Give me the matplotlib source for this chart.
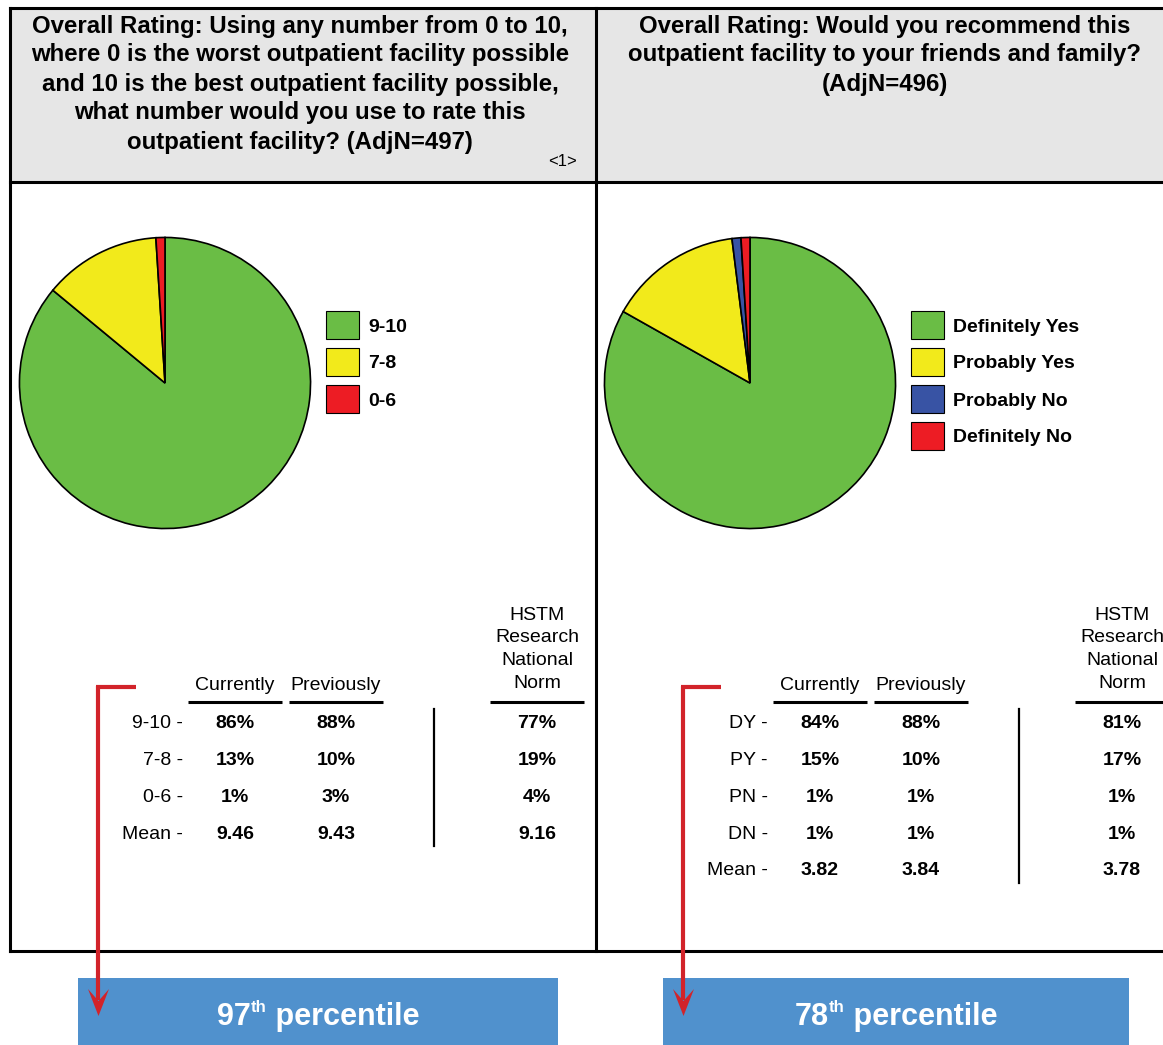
import matplotlib
matplotlib.use('Agg')
import matplotlib.pyplot as plt
from matplotlib.patches import Rectangle, Polygon

plt.rcParams['font.family'] = ['Liberation Sans', 'DejaVu Sans']

# ---- data ----
rating_title = ['Overall Rating: Using any number from 0 to 10,',
                'where 0 is the worst outpatient facility possible',
                'and 10 is the best outpatient facility possible,',
                'what number would you use to rate this',
                'outpatient facility? (AdjN=497)']
rating_legend = ['9-10', '7-8', '0-6']
rating_rows = ['9-10', '7-8', '0-6']
rating_current = [86, 13, 1]
rating_previous = [88, 10, 3]
rating_norm = [77, 19, 4]
rating_mean = [9.46, 9.43, 9.16]
rating_colors = ['#6abd45', '#f2ea1b', '#ed1c24']

recommend_title = ['Overall Rating: Would you recommend this',
                   'outpatient facility to your friends and family?',
                   '(AdjN=496)']
recommend_legend = ['Definitely Yes', 'Probably Yes', 'Probably No', 'Definitely No']
recommend_rows = ['DY', 'PY', 'PN', 'DN']
recommend_current = [84, 15, 1, 1]
recommend_previous = [88, 10, 1, 1]
recommend_norm = [81, 17, 1, 1]
recommend_mean = [3.82, 3.84, 3.78]
recommend_colors = ['#6abd45', '#f2ea1b', '#3853a4', '#ed1c24']

percentiles = [97, 78]
norm_header = ['HSTM', 'Research', 'National', 'Norm']

W, H = 1163, 1045
RED = '#d2232a'
BLUE = '#5091cd'
OFF = 2  # small vertical nudge so text centres sit like the reference

fig = plt.figure(figsize=(W / 100, H / 100), dpi=100)
ax = fig.add_axes([0, 0, 1, 1])
ax.set_xlim(0, W)
ax.set_ylim(H, 0)
ax.axis('off')

# header background and frame
ax.add_patch(Rectangle((10, 8), W - 10, 174, facecolor='#e6e6e6', edgecolor='none'))
lw = 2.2
ax.plot([10, W], [8, 8], color='black', lw=lw)
ax.plot([10, W], [182, 182], color='black', lw=lw)
ax.plot([10, W], [951, 951], color='black', lw=lw)
ax.plot([10, 10], [8, 951], color='black', lw=lw)
ax.plot([596, 596], [8, 951], color='black', lw=lw)


def draw_panel(dx, title, tcx, legend, colors, rows, cur, prev, norm, mean, pct, bx1):
    # title
    for i, line in enumerate(title):
        ax.text(tcx, 24 + OFF + i * 29, line, ha='center', va='center',
                fontsize=17.3, fontweight='bold')

    # pie
    cx, cy, r = 165 + dx, 383, 147
    pax = fig.add_axes([(cx - r) / W, 1 - (cy + r) / H, 2 * r / W, 2 * r / H])
    pax.pie(cur, colors=colors, startangle=90, counterclock=False,
            wedgeprops=dict(edgecolor='black', linewidth=1.2))
    pax.set_xlim(-1.01, 1.01)
    pax.set_ylim(-1.01, 1.01)
    pax.set_aspect('equal')
    pax.axis('off')

    # legend
    for i, (lab, c) in enumerate(zip(legend, colors)):
        y = 325 + i * 37
        ax.add_patch(Rectangle((326 + dx, y - 14), 33, 28, facecolor=c,
                               edgecolor='black', lw=0.8))
        ax.text(368 + dx, y + OFF, lab, ha='left', va='center', fontsize=14,
                fontweight='bold')

    # table header
    c1, c2, c3 = 235 + dx, 336 + dx, 537 + dx
    ax.text(c1, 684 + OFF, 'Currently', ha='center', va='center', fontsize=14)
    ax.text(c2, 684 + OFF, 'Previously', ha='center', va='center', fontsize=14)
    for i, line in enumerate(norm_header):
        ax.text(c3, 613 + OFF + i * 22.7, line, ha='center', va='center', fontsize=14)
    for c in (c1, c2, c3):
        ax.plot([c - 47, c + 47], [702, 702], color='black', lw=2.2,
                solid_capstyle='butt')

    labels = [r + ' -' for r in rows] + ['Mean -']
    cur_t = ['%d%%' % v for v in cur] + ['%.2f' % mean[0]]
    prev_t = ['%d%%' % v for v in prev] + ['%.2f' % mean[1]]
    norm_t = ['%d%%' % v for v in norm] + ['%.2f' % mean[2]]
    for i in range(len(labels)):
        y = 722 + OFF + i * 36.7
        ax.text(183 + dx, y, labels[i], ha='right', va='center', fontsize=14)
        ax.text(c1, y, cur_t[i], ha='center', va='center', fontsize=14, fontweight='bold')
        ax.text(c2, y, prev_t[i], ha='center', va='center', fontsize=14, fontweight='bold')
        ax.text(c3, y, norm_t[i], ha='center', va='center', fontsize=14, fontweight='bold')
    ylast = 722 + (len(labels) - 1) * 36.7
    ax.plot([434 + dx, 434 + dx], [709, ylast + 14], color='black', lw=1.6)

    # red bracket arrow
    ax.plot([96 + dx, 136 + dx], [687, 687], color=RED, lw=3, solid_capstyle='butt')
    ax.plot([98 + dx, 98 + dx], [686, 1000], color=RED, lw=3, solid_capstyle='butt')

    # percentile box
    bx0 = 78 + dx
    ax.add_patch(Rectangle((bx0, 978), bx1 - bx0, 70, facecolor=BLUE, edgecolor='none'))
    ax.add_patch(Polygon([[88 + dx, 989], [98.5 + dx, 1001], [109 + dx, 989], [98.5 + dx, 1016]],
                         closed=True, facecolor=RED, edgecolor='none'))
    # percentile text with superscript
    bcx = (bx0 + bx1) / 2
    t1 = ax.text(0, 0, str(pct), fontsize=22, fontweight='bold', color='white')
    t2 = ax.text(0, 0, 'th', fontsize=12, fontweight='bold', color='white')
    t3 = ax.text(0, 0, ' percentile', fontsize=22, fontweight='bold', color='white')
    fig.canvas.draw()
    rend = fig.canvas.get_renderer()
    w1 = t1.get_window_extent(rend).width
    w2 = t2.get_window_extent(rend).width
    w3 = t3.get_window_extent(rend).width
    x = bcx - (w1 + w2 + w3) / 2
    t1.set_position((x, 1017)); t1.set_va('center')
    t2.set_position((x + w1, 1007)); t2.set_va('center')
    t3.set_position((x + w1 + w2, 1017)); t3.set_va('center')


draw_panel(0, rating_title, 300, rating_legend, rating_colors, rating_rows,
           rating_current, rating_previous, rating_norm, rating_mean, percentiles[0], 558)
ax.text(577, 161, '<1>', ha='right', va='center', fontsize=12)
draw_panel(585, recommend_title, 885, recommend_legend, recommend_colors, recommend_rows,
           recommend_current, recommend_previous, recommend_norm, recommend_mean,
           percentiles[1], 1129)

fig.savefig('out.png', dpi=100)
